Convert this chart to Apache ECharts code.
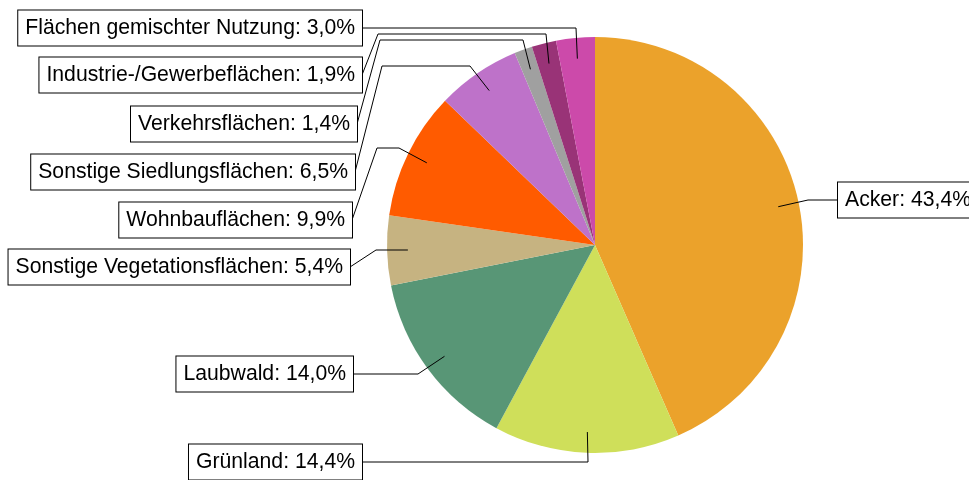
<!DOCTYPE html>
<html><head><meta charset="utf-8">
<script src="https://cdn.jsdelivr.net/npm/echarts@6/dist/echarts.min.js"></script>
<style>html,body{margin:0;padding:0;background:#fff}#c{width:969px;height:480px}</style>
</head><body><div id="c"></div>
<script>
// ---- data ----
const categories = ['Acker', 'Grünland', 'Laubwald', 'Sonstige Vegetationsflächen', 'Wohnbauflächen',
  'Sonstige Siedlungsflächen', 'Verkehrsflächen', 'Industrie-/Gewerbeflächen', 'Flächen gemischter Nutzung'];
const values = [43.4, 14.4, 14.0, 5.4, 9.9, 6.5, 1.4, 1.9, 3.0];
const colors = ['#EBA22B', '#CFDF5A', '#589676', '#C6B381', '#FF5B00', '#BE72C9', '#A0A0A0', '#993377', '#CC4AAA'];

// ---- layout (pixels) ----
const CX = 595, CY = 245, R = 208, ANCHOR = 0.9;
const labelPos = [
  {x: 838, y: 200, align: 'left',  route: [[808, 200]]},
  {x: 362, y: 462, align: 'right', route: [[588, 462]]},
  {x: 353, y: 374, align: 'right', route: [[418, 374]]},
  {x: 350, y: 267, align: 'right', route: [[376, 250]]},
  {x: 352, y: 220, align: 'right', route: [[399, 148], [377, 148]]},
  {x: 355, y: 172, align: 'right', route: [[470, 66], [382, 66]]},
  {x: 357, y: 124, align: 'right', route: [[523, 40], [380, 40]]},
  {x: 362, y: 75,  align: 'right', route: [[546, 34], [378, 34]]},
  {x: 362, y: 28,  align: 'right', route: [[576, 28]]}
];

const total = values.reduce((a, b) => a + b, 0);
function anchorPoint(i) {
  let cum = 0;
  for (let j = 0; j < i; j++) cum += values[j];
  const mid = (cum + values[i] / 2) / total * Math.PI * 2;
  return [CX + ANCHOR * R * Math.sin(mid), CY - ANCHOR * R * Math.cos(mid)];
}

const common = {
  type: 'pie',
  center: [CX, CY],
  radius: [0, R],
  startAngle: 90,
  clockwise: true,
  avoidLabelOverlap: false,
  silent: true,
  emphasis: {disabled: true}
};

const chart = echarts.init(document.getElementById('c'), null, {renderer: 'canvas'});
chart.setOption({
  animation: false,
  backgroundColor: '#fff',
  series: [
    Object.assign({}, common, {
      z: 2,
      data: categories.map((c, i) => ({name: c, value: values[i], itemStyle: {color: colors[i]}})),
      label: {show: false},
      labelLine: {show: false}
    }),
    Object.assign({}, common, {
      z: 5,
      data: categories.map((c, i) => ({name: c, value: values[i], itemStyle: {color: 'rgba(0,0,0,0)'}})),
      label: {
        show: true,
        position: 'outside',
        formatter: p => p.name + ': ' + values[p.dataIndex].toFixed(1).replace('.', ',') + '%',
        color: '#000',
        fontSize: 21.2,
        fontFamily: 'Liberation Sans, Arial, sans-serif',
        backgroundColor: '#fff',
        borderColor: '#000',
        borderWidth: 1,
        padding: [7, 7],
        overflow: 'none'
      },
      labelLine: {show: true, length: 2, length2: 2, smooth: false, lineStyle: {color: '#000', width: 1}},
      labelLayout: function (p) {
        const i = p.dataIndex, L = labelPos[i];
        return {
          x: L.x, y: L.y, align: L.align, verticalAlign: 'middle',
          labelLinePoints: [anchorPoint(i)].concat(L.route, [[L.x, L.y]])
        };
      }
    })
  ]
});
</script></body></html>
